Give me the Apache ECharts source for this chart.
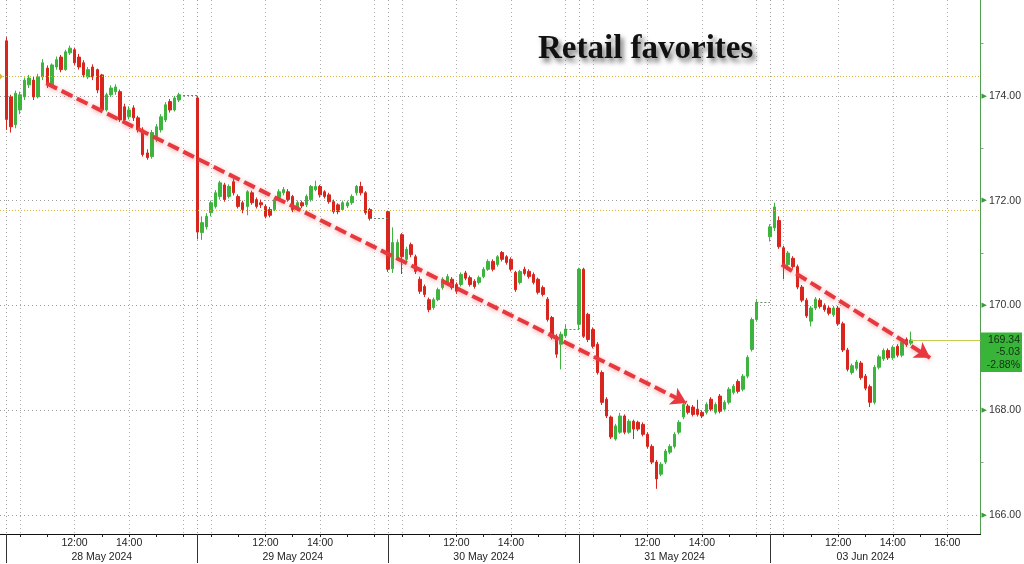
<!DOCTYPE html>
<html><head><meta charset="utf-8">
<script src="https://cdn.jsdelivr.net/npm/echarts@6/dist/echarts.min.js"></script>
<style>html,body{margin:0;padding:0;background:#fff}#c{width:1024px;height:564px}</style>
</head><body><div id="c"></div>
<script>
// ---------- data ----------
const dayLabels = ['28 May 2024','29 May 2024','30 May 2024','31 May 2024','03 Jun 2024'];
const hourTicks = ['10:00','11:00','12:00','13:00','14:00','15:00','16:00'];
const gridHours = ['10:00','12:00','14:00','16:00'];
const timeLabels = ['12:00','14:00'];
const lastDayExtraLabel = '16:00';
const yTicks = [166,168,170,172,174];
const yMinorTicks = [167,169,171,173,175];
// candles, 10-minute bars from 09:30: [open, close, low, high]
const day1 = [
[175.05,173.55,173.35,175.12],[173.98,173.41,173.30,174.02],[173.45,174.05,173.38,174.10],[173.73,174.02,173.65,174.08],
[173.98,174.30,173.92,174.35],[174.21,174.34,174.15,174.40],[174.30,173.98,173.92,174.36],[173.98,174.36,173.95,174.42],
[174.36,174.63,174.30,174.70],[174.53,174.21,174.15,174.58],[174.21,174.59,174.18,174.62],[174.55,174.69,174.50,174.75],
[174.74,174.50,174.45,174.78],[174.50,174.84,174.48,174.88],[174.82,174.91,174.78,174.96],[174.88,174.63,174.58,174.92],
[174.74,174.55,174.50,174.80],[174.63,174.40,174.35,174.68],[174.36,174.50,174.32,174.55],[174.55,174.36,174.30,174.60],
[174.50,174.11,174.05,174.52],[174.40,173.73,173.68,174.42],[173.73,174.02,173.70,174.06],[174.02,174.15,173.98,174.20],
[174.08,174.17,174.02,174.22],[174.08,173.54,173.50,174.12],[173.79,173.54,173.48,173.85],[173.60,173.73,173.55,173.80],
[173.77,173.58,173.52,173.82],[173.58,173.35,173.30,173.62],[173.35,172.88,172.84,173.40],[172.91,172.82,172.78,172.98],
[172.84,173.30,172.80,173.35],[173.16,173.41,173.12,173.46],[173.35,173.60,173.30,173.65],[173.54,173.83,173.50,173.88],
[173.89,173.73,173.68,173.94],[173.73,173.96,173.70,174.00],[173.92,174.02,173.88,174.06]
];
const day2 = [
[173.96,171.40,171.26,174.00],[171.39,171.58,171.25,171.70],[171.50,171.70,171.45,171.76],[171.77,171.96,171.70,172.00],
[171.89,172.15,171.85,172.20],[172.08,172.34,172.02,172.38],[172.30,172.02,171.98,172.34],[172.08,172.27,172.04,172.31],
[172.36,172.15,172.10,172.42],[172.08,171.89,171.85,172.12],[171.96,171.83,171.76,172.00],[171.89,172.17,171.72,172.20],
[172.15,171.96,171.92,172.19],[172.02,171.89,171.85,172.06],[171.96,171.92,171.86,172.02],[171.89,171.70,171.66,171.93],
[171.83,171.72,171.68,171.88],[171.83,172.02,171.80,172.06],[172.06,172.17,172.02,172.22],[172.15,172.21,172.10,172.26],
[172.17,172.02,171.98,172.22],[172.08,171.83,171.78,172.11],[171.83,171.96,171.80,172.00],[171.96,171.90,171.86,172.00],
[171.92,172.08,171.88,172.12],[172.02,172.27,171.98,172.30],[172.21,172.27,172.18,172.38],[172.27,172.11,172.06,172.30],
[172.17,172.08,172.04,172.20],[172.11,171.98,171.94,172.15],[171.98,171.79,171.75,172.02],[171.92,171.79,171.74,171.95],
[171.83,171.96,171.80,172.00],[171.90,171.96,171.86,172.00],[171.96,172.08,171.92,172.12],[172.15,172.27,172.10,172.30],
[172.27,172.15,172.10,172.36],[172.15,171.77,171.73,172.18],[171.83,171.66,171.62,171.86]
];
const day3 = [
[171.79,170.69,170.64,171.82],[170.70,171.20,170.62,171.49],[170.92,171.20,170.88,171.26],[171.35,170.93,170.60,171.38],
[170.88,171.07,170.84,171.12],[171.16,170.97,170.92,171.20],[170.93,170.65,170.60,170.97],[170.50,170.27,170.22,170.55],
[170.36,170.21,170.16,170.40],[170.11,169.92,169.87,170.15],[169.96,170.11,169.92,170.15],[170.11,170.30,170.08,170.34],
[170.34,170.50,170.30,170.54],[170.44,170.55,170.40,170.60],[170.50,170.34,170.30,170.54],[170.40,170.27,170.22,170.44],
[170.40,170.59,170.36,170.63],[170.62,170.52,170.48,170.66],[170.53,170.40,170.36,170.57],[170.46,170.36,170.32,170.50],
[170.44,170.53,170.40,170.57],[170.55,170.69,170.52,170.73],[170.69,170.84,170.66,170.88],[170.84,170.69,170.65,170.88],
[170.78,170.93,170.74,170.96],[171.01,170.88,170.84,171.04],[170.93,170.82,170.78,170.96],[170.88,170.69,170.65,170.92],
[170.63,170.30,170.26,170.66],[170.44,170.65,170.40,170.68],[170.69,170.61,170.57,170.74],[170.65,170.55,170.51,170.69],
[170.59,170.44,170.40,170.63],[170.50,170.25,170.21,170.53],[170.34,170.21,170.17,170.38],[170.12,169.73,169.69,170.16],
[169.77,169.39,169.35,169.80],[169.41,169.07,169.00,169.45],[169.26,169.45,168.78,169.50],[169.42,169.55,169.38,169.64]
];
const day4 = [
[169.64,170.69,169.55,170.72],[170.69,169.41,169.38,170.72],[169.83,169.35,169.30,169.86],[169.54,169.22,169.18,169.58],
[169.26,168.72,168.68,169.30],[168.72,168.15,168.10,168.76],[168.21,167.89,167.85,168.25],[167.87,167.49,167.45,167.90],
[167.45,167.70,167.42,167.74],[167.58,167.89,167.55,167.95],[167.89,167.58,167.54,167.92],[167.58,167.79,167.55,167.83],
[167.79,167.64,167.45,167.82],[167.77,167.64,167.60,167.80],[167.73,167.54,167.50,167.77],[167.54,167.31,167.27,167.58],
[167.31,167.01,166.97,167.35],[167.01,166.69,166.50,167.05],[166.78,166.97,166.74,167.01],[167.01,167.22,166.97,167.26],
[167.20,167.31,167.16,167.35],[167.31,167.54,167.27,167.58],[167.58,167.77,167.54,167.81],[167.87,168.11,167.83,168.15],
[168.08,167.96,167.92,168.12],[168.06,167.92,167.88,168.10],[168.02,167.92,167.88,168.20],[167.96,167.89,167.85,168.00],
[167.96,168.11,167.92,168.15],[168.21,168.02,167.98,168.25],[167.96,168.11,167.92,168.15],[168.27,167.98,167.94,168.31],
[168.02,168.15,167.98,168.19],[168.15,168.40,168.11,168.44],[168.34,168.46,168.30,168.50],[168.55,168.36,168.32,168.59],
[168.40,168.65,168.36,168.69],[168.65,169.01,168.61,169.05],[169.16,169.73,169.12,169.77],[169.73,170.06,169.69,170.12]
];
const day5 = [
[171.31,171.50,171.22,171.55],[171.48,171.88,171.42,171.96],[171.62,171.12,171.08,171.70],[171.10,170.78,170.50,171.14],
[170.78,171.00,170.74,171.04],[170.90,170.74,170.70,170.94],[170.74,170.35,170.31,170.78],[170.35,170.10,170.06,170.39],
[170.10,169.80,169.76,170.14],[169.70,169.95,169.60,169.99],[169.95,170.12,169.91,170.16],[170.10,169.98,169.94,170.14],
[170.00,169.92,169.88,170.04],[169.95,169.85,169.81,169.99],[169.82,169.95,169.78,169.99],[169.95,169.65,169.61,169.99],
[169.65,169.15,169.11,169.69],[169.15,168.78,168.74,169.19],[168.72,168.85,168.68,168.89],[168.80,168.92,168.76,168.96],
[168.90,168.62,168.58,168.94],[168.65,168.42,168.38,168.69],[168.45,168.15,168.06,168.49],[168.15,168.82,168.11,168.86],
[168.82,169.02,168.78,169.06],[168.98,169.14,168.94,169.18],[169.14,169.00,168.96,169.18],[169.00,169.20,168.96,169.24],
[169.22,169.05,169.01,169.26],[169.05,169.30,169.01,169.34],[169.35,169.25,169.21,169.39],[169.28,169.34,169.24,169.50]
];
const days = [day1, day2, day3, day4, day5];
const prevClose = 174.37;
const refLevel = 171.81;
const lastPrice = 169.34;
const netChange = '-5.03';
const pctChange = '-2.88%';
// trend arrows: [dayIndex, time, price]
const trend1 = [[0,'10:58',174.24],[3,'13:26',168.14]];
const trend2 = [[4,'09:56',170.78],[4,'15:22',169.00]];
const chartTitle = 'Retail favorites';

// ---------- helpers ----------
const SLOTS_PER_DAY = 42, OPEN_MIN = 9*60+30, BAR_MIN = 10;
function slot(day, hhmm){ const p = hhmm.split(':').map(Number); return day*SLOTS_PER_DAY + (p[0]*60+p[1]-OPEN_MIN)/BAR_MIN; }
const xMin = slot(0,'09:16'), xMax = slot(4,'17:13');
const yMin = 165.638, yMax = 175.829;

const candles = [];
days.forEach((arr,d)=>arr.forEach((c,i)=>candles.push([d*SLOTS_PER_DAY+i, c[0], c[1], c[2], c[3]])));

const hourVals = [], gridVals = [], sepVals = [], labelVals = [], labelMap = {};
days.forEach((_,d)=>{
  hourTicks.forEach(t=>hourVals.push(slot(d,t)));
  gridHours.forEach(t=>gridVals.push(slot(d,t)));
  sepVals.push(slot(d,'09:30'));
  timeLabels.forEach(t=>{ const v=slot(d,t); labelVals.push(v); labelMap[v]=t; });
  const mv = slot(d,'13:00'); labelVals.push(mv); labelMap[mv] = '\n'+dayLabels[d];
});
{ const v = slot(4,lastDayExtraLabel); labelVals.push(v); labelMap[v] = lastDayExtraLabel; }

// after-close connectors
const connectors = [];
for (let d=0; d<days.length-1; d++){
  const arr = days[d], last = arr[arr.length-1];
  connectors.push([{coord:[d*SLOTS_PER_DAY+arr.length-1, last[1]]},{coord:[(d+1)*SLOTS_PER_DAY, last[1]]}]);
}
const lastX = (days.length-1)*SLOTS_PER_DAY + day5.length-1;
const tp = p => [slot(p[0],p[1]), p[2]];

const FONT = 'Liberation Sans';
const UP = '#3db43d', DOWN = '#d8261e';
const baseX = {type:'value', min:xMin, max:xMax, position:'bottom', gridIndex:0};
const baseY = {type:'value', min:yMin, max:yMax, position:'right', gridIndex:0, scale:true};
const trendStyle = {color:'#e6393f', type:[12,5], width:4, shadowColor:'rgba(235,70,70,0.5)', shadowBlur:5, shadowOffsetY:1};

const option = {
  animation:false,
  backgroundColor:'#fff',
  title:{text:chartTitle, left:533, top:28,
    textStyle:{fontFamily:'Liberation Serif', fontWeight:'bold', fontSize:33, color:'#111',
      textShadowColor:'rgba(0,0,0,0.55)', textShadowBlur:5, textShadowOffsetX:3, textShadowOffsetY:4}},
  grid:{left:0, right:41.3, top:0, bottom:29, containLabel:false},
  xAxis:[
    Object.assign({}, baseX, {
      axisLine:{show:true, onZero:false, lineStyle:{color:'#111', width:1}},
      axisTick:{show:true, customValues:hourVals, length:3, lineStyle:{color:'#222'}},
      axisLabel:{show:true, customValues:labelVals, margin:2, color:'#222', fontFamily:FONT, fontSize:10.5, lineHeight:14,
        formatter:v=>{ const k=Object.keys(labelMap).find(x=>Math.abs(+x-v)<1e-6); return k!==undefined?labelMap[k]:''; }},
      splitLine:{show:false}
    }),
    Object.assign({}, baseX, {
      axisLine:{show:false, onZero:false},
      axisTick:{show:true, customValues:sepVals, length:29, lineStyle:{color:'#333', width:1}},
      axisLabel:{show:false},
      splitLine:{show:true, lineStyle:{color:'#9a9a9a', type:[1,3], width:1}}
    }),
    Object.assign({}, baseX, {
      axisLine:{show:false, onZero:false},
      axisTick:{show:false, customValues:gridVals},
      axisLabel:{show:false},
      splitLine:{show:true, lineStyle:{color:'#b0b0b0', type:[1,3], width:1}}
    })
  ],
  yAxis:[
    Object.assign({}, baseY, {
      axisLine:{show:true, onZero:false, lineStyle:{color:'#4f9f4f', width:1}},
      axisTick:{show:false, customValues:yTicks},
      axisLabel:{show:true, customValues:yTicks, margin:1,
        formatter:v=>'{a|▶}{b|'+v.toFixed(2)+'}',
        rich:{a:{fontSize:7, color:'#3a9a3a', padding:[0,2,0,0], fontFamily:'DejaVu Sans'},
              b:{fontSize:10.5, color:'#333', fontFamily:FONT}}},
      splitLine:{show:true, lineStyle:{color:'#9a9a9a', type:[1,3], width:1}}
    }),
    Object.assign({}, baseY, {
      axisLine:{show:false, onZero:false},
      axisTick:{show:true, customValues:yMinorTicks, length:3, lineStyle:{color:'#999'}},
      axisLabel:{show:false},
      splitLine:{show:false}
    })
  ],
  series:[{
    type:'candlestick', xAxisIndex:0, yAxisIndex:0, clip:false,
    data:candles, barWidth:3,
    itemStyle:{color:UP, color0:DOWN, borderColor:UP, borderColor0:DOWN, borderWidth:1},
    markLine:{
      silent:true, animation:false,
      data:[
        [{coord:[xMin,prevClose], symbol:'diamond', symbolSize:6, lineStyle:{color:'#d8b440', type:[1,2], width:1}},{coord:[xMax,prevClose], symbol:'none'}],
        [{coord:[xMin,refLevel], symbol:'none', lineStyle:{color:'#d8b440', type:[1,2], width:1}},{coord:[xMax,refLevel], symbol:'none'}],
        ...connectors.map(c=>[Object.assign({symbol:'none', lineStyle:{color:'#6a8a6a', type:[2,2], width:1}},c[0]), Object.assign({symbol:'none'},c[1])]),
        [{coord:[lastX,lastPrice], symbol:'none', lineStyle:{color:'#c4cf52', type:'solid', width:1}},{coord:[xMax,lastPrice], symbol:'none'}],
        [{coord:tp(trend1[0]), symbol:'none', lineStyle:trendStyle},{coord:tp(trend1[1]), symbol:'arrow', symbolSize:[14,15]}],
        [{coord:tp(trend2[0]), symbol:'none', lineStyle:trendStyle},{coord:tp(trend2[1]), symbol:'arrow', symbolSize:[14,15]}]
      ],
      label:{show:false}
    },
    markPoint:{
      silent:true, animation:false,
      data:[{coord:[xMax,lastPrice], symbol:'rect', symbolSize:[1,1], itemStyle:{color:'rgba(0,0,0,0)'},
        label:{show:true, position:[1,-7], backgroundColor:'#38b438', padding:[1,2,1,2],
          formatter:'{r|'+lastPrice.toFixed(2)+'}\n{r|'+netChange+'}\n{r|'+pctChange+'}',
          rich:{r:{width:37, align:'right', fontSize:10.5, lineHeight:12.5, color:'#123012', fontFamily:FONT}}}}]
    }
  }]
};
const chart = echarts.init(document.getElementById('c'), null, {renderer:'canvas'});
chart.setOption(option);
</script>
</body></html>
